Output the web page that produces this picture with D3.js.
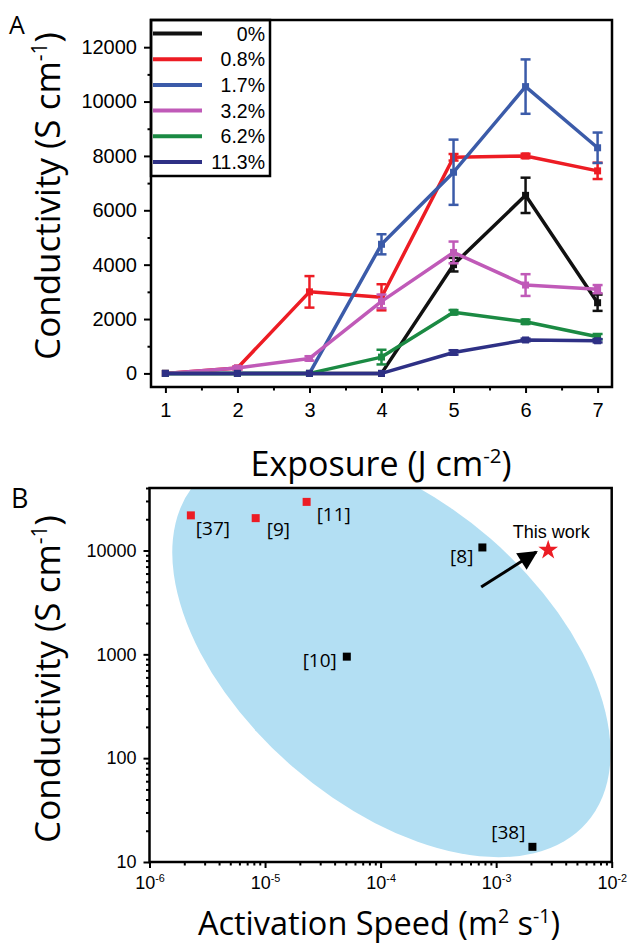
<!DOCTYPE html>
<html>
<head>
<meta charset="utf-8">
<script src="https://cdn.jsdelivr.net/npm/d3@7"></script>
<style>
  body { margin: 0; background: #fff; }
  svg { display: block; }
  .tick text { font-family: "Liberation Sans", Arial, sans-serif; fill: #000; }
  .tick line { stroke: #000; stroke-width: 2; }
  .title { font-family: "Open Sans", "Noto Sans", sans-serif; fill: #000; }
</style>
</head>
<body>
<script>
// ---- panel A data ----
const exposure = [1, 2, 3, 4, 5, 6, 7];
const seriesNames = ["0%", "0.8%", "1.7%", "3.2%", "6.2%", "11.3%"];
const seriesColors = ["#111111", "#ed1c24", "#3b5ba9", "#c05ab8", "#1b8a43", "#2e3085"];
const cond0   = [0, 0, 0, 0, 4000, 6550, 2600];
const err0    = [0, 0, 0, 0, 250, 650, 300];
const cond08  = [0, 200, 3000, 2800, 7950, 8000, 7450];
const err08   = [0, 50, 580, 480, 120, 80, 300];
const cond17  = [0, 0, 0, 4750, 7400, 10550, 8300];
const err17   = [0, 0, 0, 370, 1200, 1000, 560];
const cond32  = [0, 200, 550, 2650, 4450, 3250, 3100];
const err32   = [0, 60, 80, 250, 400, 400, 150];
const cond62  = [0, 0, 0, 600, 2250, 1900, 1350];
const err62   = [0, 0, 0, 270, 80, 80, 100];
const cond113 = [0, 0, 0, 0, 770, 1230, 1200];
const err113  = [0, 0, 0, 0, 80, 50, 60];
const condA = [cond0, cond08, cond17, cond32, cond62, cond113];
const errA  = [err0, err08, err17, err32, err62, err113];
const yTicksA = [0, 2000, 4000, 6000, 8000, 10000, 12000];

// ---- panel B data ----
const refLabels = ["[37]", "[9]", "[11]", "[8]", "[10]", "[38]"];
const refSpeed  = [2.28e-6, 8.3e-6, 2.29e-5, 7.6e-4, 5.1e-5, 2.06e-3];
const refCond   = [21800, 20500, 29400, 10700, 950, 14];
const refColors = ["#ec1c24", "#ec1c24", "#ec1c24", "#000", "#000", "#000"];
const thisWork  = [2.82e-3, 10100];
const xTicksB = [1e-6, 1e-5, 1e-4, 1e-3, 1e-2];
const yTicksB = [10, 100, 1000, 10000];
const regionCenter = [1.24e-4, 1040]; // centre of shaded region (speed, conductivity)

const W = 634, H = 945;
const svg = d3.select("body").append("svg").attr("width", W).attr("height", H);
svg.append("rect").attr("width", W).attr("height", H).attr("fill", "#fff");

// text with superscripts: parts = [[text, isSup], ...]
function richText(sel, parts, size) {
  const shift = size * 0.38;
  let raised = false;
  parts.forEach(function(p) {
    const t = sel.append("tspan").text(p[0]);
    if (p[1]) {
      t.style("font-size", (size * 0.6) + "px");
      if (!raised) t.attr("dy", -shift);
      raised = true;
    } else if (raised) {
      t.attr("dy", shift);
      raised = false;
    }
  });
}

// ================= Panel A =================
const xA = d3.scaleLinear().domain([0.8, 7.2]).range([151, 612]);
const yA = d3.scaleLinear().domain([-500, 13000]).range([387, 20]);

const gxA = svg.append("g").attr("transform", "translate(0,387)")
  .call(d3.axisBottom(xA).tickValues(exposure).tickSize(6).tickPadding(10).tickFormat(d3.format("d")));
gxA.selectAll("text").style("font-size", "20px");
svg.append("g").attr("transform", "translate(0,387)")
  .call(d3.axisBottom(xA).tickValues(d3.range(1.5, 7, 1)).tickSize(3.5).tickFormat(""));

const gyA = svg.append("g").attr("transform", "translate(151,0)")
  .call(d3.axisLeft(yA).tickValues(yTicksA).tickSize(7).tickPadding(7).tickFormat(d3.format("d")));
gyA.selectAll("text").style("font-size", "20px");
svg.append("g").attr("transform", "translate(151,0)")
  .call(d3.axisLeft(yA).tickValues(d3.range(1000, 12000, 2000)).tickSize(3.5).tickFormat(""));
svg.selectAll(".domain").remove();

const line = d3.line().x(d => xA(d.x)).y(d => yA(d.y));

condA.forEach(function(vals, i) {
  const pts = vals.map((v, j) => ({ x: exposure[j], y: v, e: errA[i][j] }));
  const g = svg.append("g").attr("stroke", seriesColors[i]).attr("fill", seriesColors[i]);
  g.selectAll("line.err").data(pts.filter(d => d.e > 0)).enter().append("line")
    .attr("x1", d => xA(d.x)).attr("x2", d => xA(d.x))
    .attr("y1", d => yA(d.y - d.e)).attr("y2", d => yA(d.y + d.e))
    .attr("stroke-width", 2.5);
  [-1, 1].forEach(function(s) {
    g.selectAll("line.cap" + s).data(pts.filter(d => d.e > 0)).enter().append("line")
      .attr("x1", d => xA(d.x) - 5).attr("x2", d => xA(d.x) + 5)
      .attr("y1", d => yA(d.y + s * d.e)).attr("y2", d => yA(d.y + s * d.e))
      .attr("stroke-width", 2.5);
  });
  g.append("path").datum(pts).attr("d", line).attr("fill", "none")
    .attr("stroke-width", 3.5).attr("stroke-linejoin", "round");
  g.selectAll("rect").data(pts).enter().append("rect")
    .attr("x", d => xA(d.x) - 3.5).attr("y", d => yA(d.y) - 3.5)
    .attr("width", 7).attr("height", 7).attr("stroke", "none");
});

// legend
const leg = svg.append("g");
leg.append("rect").attr("x", 151).attr("y", 20).attr("width", 119).attr("height", 156)
  .attr("fill", "#fff").attr("stroke", "#000").attr("stroke-width", 2.5);
seriesNames.forEach(function(n, i) {
  const y = 33.5 + i * 25.7;
  leg.append("line").attr("x1", 153).attr("x2", 202).attr("y1", y).attr("y2", y)
    .attr("stroke", seriesColors[i]).attr("stroke-width", 4);
  leg.append("text").attr("x", 265).attr("y", y).attr("dy", "0.36em")
    .attr("text-anchor", "end").style("font-size", "19.5px")
    .attr("font-family", "Liberation Sans, Arial, sans-serif").text(n);
});

svg.append("rect").attr("x", 151).attr("y", 20).attr("width", 461).attr("height", 367)
  .attr("fill", "none").attr("stroke", "#000").attr("stroke-width", 2.5);

svg.append("text").attr("class", "title").attr("x", 9).attr("y", 34).style("font-size", "25px").text("A");

const tyA = svg.append("text").attr("class", "title").style("font-size", "35px")
  .attr("text-anchor", "middle").attr("transform", "translate(60,196) rotate(-90)");
richText(tyA, [["Conductivity (S cm", 0], ["-1", 1], [")", 0]], 35);

const txA = svg.append("text").attr("class", "title").style("font-size", "34px")
  .attr("text-anchor", "middle").attr("x", 381).attr("y", 476);
richText(txA, [["Exposure (J cm", 0], ["-2", 1], [")", 0]], 34);

// ================= Panel B =================
const xB = d3.scaleLog().domain([1e-6, 1e-2]).range([149.5, 611.7]);
const yB = d3.scaleLog().domain([10, 40000]).range([862, 488]);

svg.append("clipPath").attr("id", "clipB").append("rect")
  .attr("x", 149.5).attr("y", 488).attr("width", 462.2).attr("height", 374);

svg.append("g").attr("clip-path", "url(#clipB)")
  .append("ellipse")
  .attr("transform", "translate(" + xB(regionCenter[0]) + "," + yB(regionCenter[1]) + ") rotate(41)")
  .attr("rx", 259).attr("ry", 151).attr("fill", "#b3dff3");

function minorLog(lo, hi) {
  const out = [];
  for (let e = lo; e < hi; e++) for (let k = 2; k <= 9; k++) out.push(k * Math.pow(10, e));
  return out;
}

const gxB = svg.append("g").attr("transform", "translate(0,862)")
  .call(d3.axisBottom(xB).tickValues(xTicksB).tickSize(6).tickPadding(5).tickFormat(""));
gxB.selectAll(".tick").append("text").attr("y", 27).attr("text-anchor", "middle")
  .style("font-size", "18px").attr("fill", "#000")
  .each(function(d) {
    richText(d3.select(this), [["10", 0], [String(Math.round(Math.log10(d))), 1]], 18);
  });
svg.append("g").attr("transform", "translate(0,862)")
  .call(d3.axisBottom(xB).tickValues(minorLog(-6, -2)).tickSize(3.5).tickFormat(""));

const gyB = svg.append("g").attr("transform", "translate(149.5,0)")
  .call(d3.axisLeft(yB).tickValues(yTicksB).tickSize(6).tickPadding(7).tickFormat(d3.format("d")));
gyB.selectAll("text").style("font-size", "18px");
svg.append("g").attr("transform", "translate(149.5,0)")
  .call(d3.axisLeft(yB).tickValues(minorLog(1, 4).concat([20000, 30000, 40000])).tickSize(3.5).tickFormat(""));
svg.selectAll(".domain").remove();

// reference points
const refs = refLabels.map((l, i) => ({ label: l, x: refSpeed[i], y: refCond[i], c: refColors[i] }));
svg.selectAll("rect.ref").data(refs).enter().append("rect")
  .attr("x", d => xB(d.x) - 4).attr("y", d => yB(d.y) - 4)
  .attr("width", 8).attr("height", 8).attr("fill", d => d.c);

const labelOffsets = [[5, 20, "start"], [11, 18, "start"], [10, 19, "start"], [-9, 16, "end"], [-10, 10, "end"], [-7, -8, "end"]];
svg.selectAll("text.ref").data(refs).enter().append("text")
  .attr("class", "title").style("font-size", "19px").attr("fill", "#222")
  .attr("x", (d, i) => xB(d.x) + labelOffsets[i][0])
  .attr("y", (d, i) => yB(d.y) + labelOffsets[i][1])
  .attr("text-anchor", (d, i) => labelOffsets[i][2])
  .text(d => d.label);

// this work
const sx = xB(thisWork[0]), sy = yB(thisWork[1]);
svg.append("path").attr("d", d3.symbol(d3.symbolStar).size(120)())
  .attr("transform", "translate(" + sx + "," + sy + ")").attr("fill", "#ec1c24");
svg.append("text").attr("x", sx + 3).attr("y", sy - 12).attr("text-anchor", "middle")
  .attr("font-family", "Liberation Sans, Arial, sans-serif").style("font-size", "18px").text("This work");

svg.append("defs").append("marker").attr("id", "arrowHead")
  .attr("viewBox", "0 0 10 10").attr("refX", 9).attr("refY", 5)
  .attr("markerWidth", 7).attr("markerHeight", 6.5).attr("orient", "auto")
  .append("path").attr("d", "M0,0 L10,5 L0,10 Z").attr("fill", "#000");
svg.append("line").attr("x1", sx - 67).attr("y1", sy + 37).attr("x2", sx - 12).attr("y2", sy + 2)
  .attr("stroke", "#000").attr("stroke-width", 3).attr("marker-end", "url(#arrowHead)");

svg.append("rect").attr("x", 149.5).attr("y", 488).attr("width", 462.2).attr("height", 374)
  .attr("fill", "none").attr("stroke", "#000").attr("stroke-width", 2.5);

svg.append("text").attr("class", "title").attr("x", 11).attr("y", 508).style("font-size", "27px").text("B");

const tyB = svg.append("text").attr("class", "title").style("font-size", "35px")
  .attr("text-anchor", "middle").attr("transform", "translate(60,679) rotate(-90)");
richText(tyB, [["Conductivity (S cm", 0], ["-1", 1], [")", 0]], 35);

const txB = svg.append("text").attr("class", "title").style("font-size", "32.5px")
  .attr("text-anchor", "middle").attr("x", 379).attr("y", 935);
richText(txB, [["Activation Speed (m", 0], ["2", 1], [" s", 0], ["-1", 1], [")", 0]], 32.5);
</script>
</body>
</html>
